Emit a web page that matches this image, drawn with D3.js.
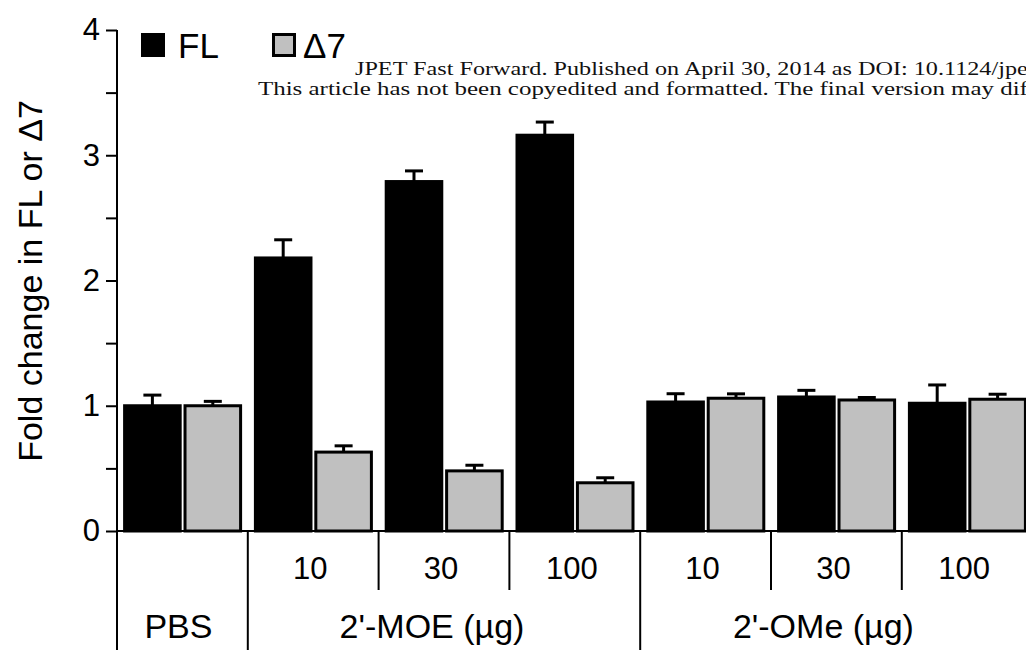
<!DOCTYPE html>
<html>
<head>
<meta charset="utf-8">
<script src="https://cdn.jsdelivr.net/npm/d3@7"></script>
<style>
  body { margin: 0; background: #fff; }
  svg { display: block; font-family: "Liberation Sans", Arial, sans-serif; }
</style>
</head>
<body>
<svg id="chart" width="1026" height="650"></svg>
<script>
// data
const doses = ["", "10", "30", "100", "10", "30", "100"];
const groupTreatment = [0, 1, 1, 1, 2, 2, 2];
const treatments = ["PBS", "2'-MOE (µg)", "2'-OMe (µg)"];
const series = ["FL", "Δ7"];
const flMeans = [1.0, 2.18, 2.79, 3.16, 1.03, 1.07, 1.02];
const flErr = [0.085, 0.145, 0.085, 0.105, 0.066, 0.053, 0.146];
const d7Means = [1.0, 0.63, 0.48, 0.385, 1.06, 1.046, 1.052];
const d7Err = [0.035, 0.05, 0.045, 0.04, 0.035, 0.02, 0.04];
const yTicks = [0, 0.5, 1, 1.5, 2, 2.5, 3, 3.5, 4];
const watermark = [
  "JPET Fast Forward. Published on April 30, 2014 as DOI: 10.1124/jpet.114.213702",
  "This article has not been copyedited and formatted. The final version may differ from this version."
];
// how much of each line is visible before the right edge
const watermarkVisible = [
  "JPET Fast Forward. Published on April 30, 2014 as DOI: 10.1124/jpe",
  "This article has not been copyedited and formatted. The final version may dif"
];

const colors = {"FL": "#000000", "Δ7": "#c0c0c0"};

const svg = d3.select("#chart");

const x0 = 117, yBase = 531;
const groupW = 130.8;

const yScale = d3.scaleLinear([0, 4], [yBase, 30]);
const xGroup = d3.scaleBand(d3.range(doses.length), [x0, x0 + groupW * doses.length]);
const xBar = d3.scaleBand(series, [7.6, xGroup.bandwidth() - 7.2]).paddingInner(0.08);

const rows = [];
doses.forEach((d, i) => {
  rows.push({g: i, s: "FL", v: flMeans[i], e: flErr[i]});
  rows.push({g: i, s: "Δ7", v: d7Means[i], e: d7Err[i]});
});

// watermark text, stretched sideways like the scan and running off the edge
const wmStart = [355, 258];
svg.append("g")
  .attr("font-family", "'Liberation Serif', 'Times New Roman', serif")
  .attr("font-size", 19)
  .selectAll("text")
  .data(watermark)
  .join("text")
  .attr("fill", "#111")
  .text(d => d)
  .each(function(d, i){
    const len = this.getSubStringLength(0, watermarkVisible[i].length);
    const sx = (1028 - wmStart[i]) / len;
    d3.select(this).attr("transform", `translate(${wmStart[i]}, ${74.5 + i * 20.5}) scale(${sx}, 1)`);
  });

// y axis
const yAxis = d3.axisLeft(yScale)
  .tickValues(yTicks)
  .tickSize(11)
  .tickPadding(6)
  .tickFormat(d => Number.isInteger(d) ? d : "");

const yg = svg.append("g")
  .attr("transform", `translate(${x0}, 0)`)
  .call(yAxis);
yg.select(".domain").remove();
yg.selectAll(".tick line").attr("stroke", "#000").attr("stroke-width", 2);
yg.selectAll(".tick text")
  .attr("font-size", 31)
  .attr("font-family", "'Liberation Sans', Arial, sans-serif")
  .attr("fill", "#000");

svg.append("line")
  .attr("x1", x0).attr("x2", x0)
  .attr("y1", yScale(4)).attr("y2", 650)
  .attr("stroke", "#000").attr("stroke-width", 2);

svg.append("text")
  .attr("transform", `translate(42, 281) rotate(-90)`)
  .attr("text-anchor", "middle")
  .attr("font-size", 34)
  .text("Fold change in FL or Δ7");

// bars
svg.append("g")
  .selectAll("rect")
  .data(rows)
  .join("rect")
  .attr("x", d => xGroup(d.g) + xBar(d.s))
  .attr("width", xBar.bandwidth())
  .attr("y", d => yScale(d.v))
  .attr("height", d => yScale(0) - yScale(d.v))
  .attr("fill", d => colors[d.s])
  .attr("stroke", "#000")
  .attr("stroke-width", 3);

// error bars
const eg = svg.append("g").attr("stroke", "#000").attr("stroke-width", 3);
eg.selectAll(".err-v")
  .data(rows)
  .join("line")
  .attr("class", "err-v")
  .attr("x1", d => xGroup(d.g) + xBar(d.s) + xBar.bandwidth() / 2)
  .attr("x2", d => xGroup(d.g) + xBar(d.s) + xBar.bandwidth() / 2)
  .attr("y1", d => yScale(d.v))
  .attr("y2", d => yScale(d.v + d.e));
eg.selectAll(".err-c")
  .data(rows)
  .join("line")
  .attr("class", "err-c")
  .attr("x1", d => xGroup(d.g) + xBar(d.s) + xBar.bandwidth() / 2 - 9)
  .attr("x2", d => xGroup(d.g) + xBar(d.s) + xBar.bandwidth() / 2 + 9)
  .attr("y1", d => yScale(d.v + d.e))
  .attr("y2", d => yScale(d.v + d.e));

// baseline
svg.append("line")
  .attr("x1", x0).attr("x2", 1026)
  .attr("y1", yScale(0)).attr("y2", yScale(0))
  .attr("stroke", "#000").attr("stroke-width", 2);

// category table below axis
const seps = d3.range(1, doses.length);
svg.append("g")
  .selectAll("line")
  .data(seps)
  .join("line")
  .attr("x1", d => xGroup(d))
  .attr("x2", d => xGroup(d))
  .attr("y1", yScale(0))
  .attr("y2", d => groupTreatment[d] != groupTreatment[d - 1] ? 650 : 590)
  .attr("stroke", "#000")
  .attr("stroke-width", 2);

svg.append("g")
  .selectAll("text")
  .data(doses)
  .join("text")
  .attr("x", (d, i) => xGroup(i) + xGroup.bandwidth() / 2 - 3)
  .attr("y", 579)
  .attr("text-anchor", "middle")
  .attr("font-size", 31)
  .text(d => d);

const labelShift = [-4, -12, -13];
svg.append("g")
  .selectAll("text")
  .data(treatments)
  .join("text")
  .attr("x", (t, k) => {
    const idx = d3.range(doses.length).filter(i => groupTreatment[i] == k);
    const left = xGroup(idx[0]);
    const right = xGroup(idx[idx.length - 1]) + xGroup.bandwidth();
    return (left + right) / 2 + labelShift[k];
  })
  .attr("y", 638)
  .attr("text-anchor", "middle")
  .attr("font-size", 34)
  .text(t => t);

// legend
const legendX = [141, 272];
const lg = svg.append("g")
  .selectAll("g")
  .data(series)
  .join("g")
  .attr("transform", (d, i) => `translate(${legendX[i]}, 33)`);
lg.append("rect")
  .attr("x", 1.5).attr("y", 1.5)
  .attr("width", 21).attr("height", 21)
  .attr("fill", d => colors[d])
  .attr("stroke", "#000")
  .attr("stroke-width", 3);
lg.append("text")
  .attr("x", (d, i) => i == 0 ? 37 : 31)
  .attr("y", 25)
  .attr("font-size", 35)
  .text(d => d);
</script>
</body>
</html>
